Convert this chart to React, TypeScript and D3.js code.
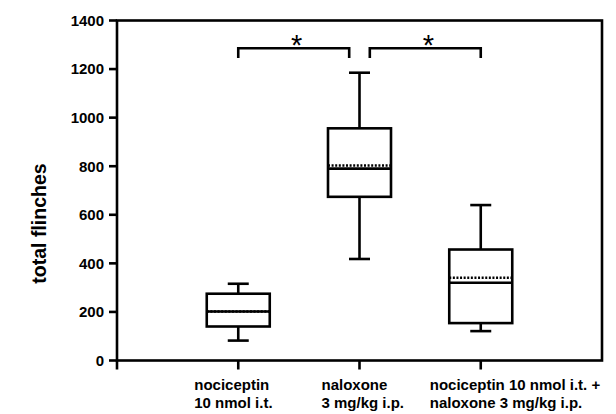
import React from "react";
import * as d3 from "d3";

// ---- data ----
const categories = [
  ["nociceptin", "10 nmol i.t."],
  ["naloxone", "3 mg/kg i.p."],
  ["nociceptin 10 nmol i.t. +", "naloxone 3 mg/kg i.p."],
];
const whiskerLow = [82, 418, 121];
const q1 = [140, 674, 154];
const median = [202, 790, 320];
const mean = [202, 803, 341];
const q3 = [275, 956, 457];
const whiskerHigh = [316, 1185, 640];
const yTicks = [0, 200, 400, 600, 800, 1000, 1200, 1400];
const yLabel = "total flinches";
// significance brackets: [from group, to group]
const brackets = [
  [0, 1],
  [1, 2],
];
const bracketValue = 1286;
const bracketDrop = 40;

// ---- layout ----
const W = 616;
const H = 414;
const left = 117;
const right = 602;
const top = 20.5;
const bottom = 360.5;
const boxHalf = 31.5;
const capHalf = 10.5;
const labelOffsets = [-44, -38, -51];
const bracketGap = 0.085;

export default function App() {
  const x = d3.scaleLinear().domain([0, 4]).range([left, right]);
  const y = d3.scaleLinear().domain([0, 1400]).range([bottom, top]);
  const font = "'Liberation Sans', Arial, Helvetica, sans-serif";
  const sw = 2.6;

  return (
    <svg
      width={W}
      height={H}
      style={{ position: "absolute", left: 0, top: 0, background: "#fff" }}
    >
      {/* frame */}
      <rect
        x={left}
        y={top}
        width={right - left}
        height={bottom - top}
        fill="none"
        stroke="#000"
        strokeWidth={sw}
      />
      {/* y ticks */}
      {yTicks.map((t) => (
        <g key={t}>
          <line x1={left - 8} x2={left} y1={y(t)} y2={y(t)} stroke="#000" strokeWidth={sw} />
          <text
            x={left - 13}
            y={y(t)}
            dy="0.36em"
            textAnchor="end"
            fontFamily={font}
            fontWeight="bold"
            fontSize={15}
          >
            {t}
          </text>
        </g>
      ))}
      {/* x ticks */}
      {[0, 1, 2, 3].map((i) => (
        <line
          key={i}
          x1={x(i)}
          x2={x(i)}
          y1={bottom}
          y2={bottom + 9}
          stroke="#000"
          strokeWidth={sw}
        />
      ))}
      {/* x labels */}
      {categories.map((lines, i) => (
        <text
          key={i}
          x={x(i + 1) + labelOffsets[i]}
          y={390}
          fontFamily={font}
          fontWeight="bold"
          fontSize={15}
        >
          {lines.map((l, k) => (
            <tspan key={k} x={x(i + 1) + labelOffsets[i]} dy={k === 0 ? 0 : 17.5}>
              {l}
            </tspan>
          ))}
        </text>
      ))}
      {/* y title */}
      <text
        transform={`translate(46, ${(top + bottom) / 2 + 33}) rotate(-90)`}
        textAnchor="middle"
        fontFamily={font}
        fontWeight="bold"
        fontSize={19.5}
      >
        {yLabel}
      </text>
      {/* boxes */}
      {categories.map((_, i) => {
        const cx = x(i + 1);
        return (
          <g key={i} stroke="#000" strokeWidth={sw} fill="none">
            <line x1={cx} x2={cx} y1={y(q3[i])} y2={y(whiskerHigh[i])} />
            <line x1={cx} x2={cx} y1={y(q1[i])} y2={y(whiskerLow[i])} />
            <line x1={cx - capHalf} x2={cx + capHalf} y1={y(whiskerHigh[i])} y2={y(whiskerHigh[i])} />
            <line x1={cx - capHalf} x2={cx + capHalf} y1={y(whiskerLow[i])} y2={y(whiskerLow[i])} />
            <rect
              x={cx - boxHalf}
              y={y(q3[i])}
              width={boxHalf * 2}
              height={y(q1[i]) - y(q3[i])}
              fill="#fff"
            />
            <line x1={cx - boxHalf} x2={cx + boxHalf} y1={y(median[i])} y2={y(median[i])} />
            <line
              x1={cx - boxHalf}
              x2={cx + boxHalf}
              y1={y(mean[i])}
              y2={y(mean[i])}
              strokeDasharray="2,1.6"
            />
          </g>
        );
      })}
      {/* significance brackets */}
      {brackets.map(([a, b], k) => {
        const x1 = x(a + 1 + (k === 1 ? bracketGap : 0));
        const x2 = x(b + 1 - (k === 0 ? bracketGap : 0));
        const yb = y(bracketValue);
        const yd = y(bracketValue - bracketDrop);
        return (
          <g key={k}>
            <path
              d={`M${x1},${yd}V${yb}H${x2}V${yd}`}
              fill="none"
              stroke="#000"
              strokeWidth={sw}
            />
            <text
              x={(x1 + x2) / 2 + 3}
              y={yb + 7}
              textAnchor="middle"
              fontFamily={font}
              fill="#000"
              fontSize={29}
            >
              *
            </text>
          </g>
        );
      })}
    </svg>
  );
}
